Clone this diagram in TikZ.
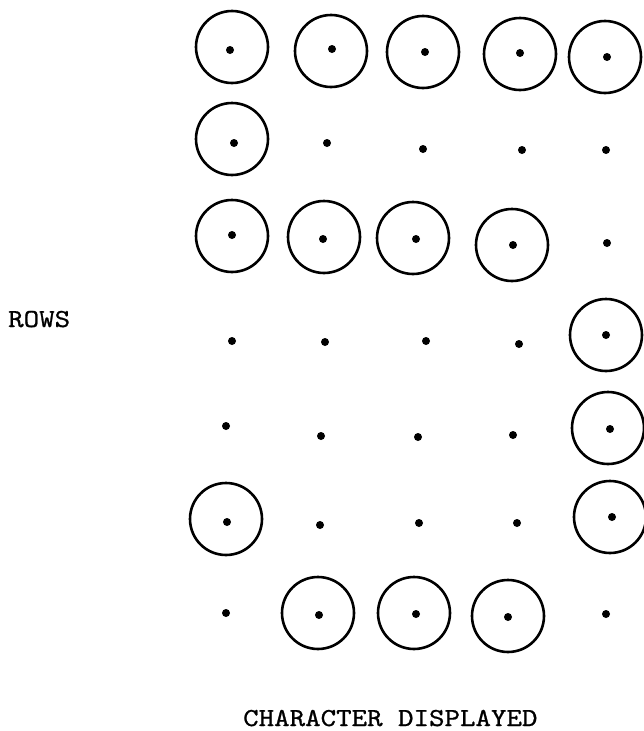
\documentclass[tikz,border=0pt]{standalone}
\usepackage{fontspec}
\newfontfamily\typewriter[FakeBold=0.8]{lmmono10-regular.otf}
\begin{document}
\begin{tikzpicture}[x=1pt,y=-1pt,
  ring/.style={circle,draw=black,line width=2.6pt,minimum size=72pt,inner sep=0pt},
  dotpt/.style={circle,fill=black,inner sep=0pt,minimum size=8pt},
  lbl/.style={font=\typewriter\fontsize{29.5}{32}\selectfont,inner sep=0pt,text=black}]
\useasboundingbox (0,0) rectangle (644,731);
% rings
\node[ring] (c11) at (232,47) {};
\node[ring] (c12) at (331,51) {};
\node[ring] (c13) at (423,52) {};
\node[ring] (c14) at (520,54) {};
\node[ring] (c15) at (605,57) {};
\node[ring] (c21) at (232,139) {};
\node[ring] (c31) at (232,236) {};
\node[ring] (c32) at (324,237) {};
\node[ring] (c33) at (413,238) {};
\node[ring] (c34) at (512,245) {};
\node[ring] (c45) at (606,335) {};
\node[ring] (c55) at (608,428) {};
\node[ring] (c61) at (226,519) {};
\node[ring] (c65) at (610,517) {};
\node[ring] (c72) at (318,613) {};
\node[ring] (c73) at (414,613) {};
\node[ring] (c74) at (508,616) {};
% dots
\node[dotpt] (d11) at (230,50) {};
\node[dotpt] (d12) at (332,49) {};
\node[dotpt] (d13) at (425,52) {};
\node[dotpt] (d14) at (520,53) {};
\node[dotpt] (d15) at (607,57) {};
\node[dotpt] (d21) at (234,143) {};
\node[dotpt] (d22) at (327,143) {};
\node[dotpt] (d23) at (423,149) {};
\node[dotpt] (d24) at (522,150) {};
\node[dotpt] (d25) at (606,150) {};
\node[dotpt] (d31) at (232,235) {};
\node[dotpt] (d32) at (323,239) {};
\node[dotpt] (d33) at (416,239) {};
\node[dotpt] (d34) at (513,245) {};
\node[dotpt] (d35) at (607,243) {};
\node[dotpt] (d41) at (232,341) {};
\node[dotpt] (d42) at (325,342) {};
\node[dotpt] (d43) at (426,341) {};
\node[dotpt] (d44) at (519,344) {};
\node[dotpt] (d45) at (606,335) {};
\node[dotpt] (d51) at (226,426) {};
\node[dotpt] (d52) at (321,436) {};
\node[dotpt] (d53) at (418,437) {};
\node[dotpt] (d54) at (513,435) {};
\node[dotpt] (d55) at (610,429) {};
\node[dotpt] (d61) at (227,522) {};
\node[dotpt] (d62) at (320,525) {};
\node[dotpt] (d63) at (419,523) {};
\node[dotpt] (d64) at (517,523) {};
\node[dotpt] (d65) at (612,517) {};
\node[dotpt] (d71) at (226,613) {};
\node[dotpt] (d72) at (319,615) {};
\node[dotpt] (d73) at (416,614) {};
\node[dotpt] (d74) at (508,617) {};
\node[dotpt] (d75) at (606,614) {};
% labels
\node[lbl,anchor=base west] (rows) at (8,327) {\scalebox{1}[0.88]{ROWS}};
\node[lbl,anchor=base west] (caption) at (243,726) {\scalebox{1}[0.88]{CHARACTER DISPLAYED}};
\end{tikzpicture}
\end{document}
